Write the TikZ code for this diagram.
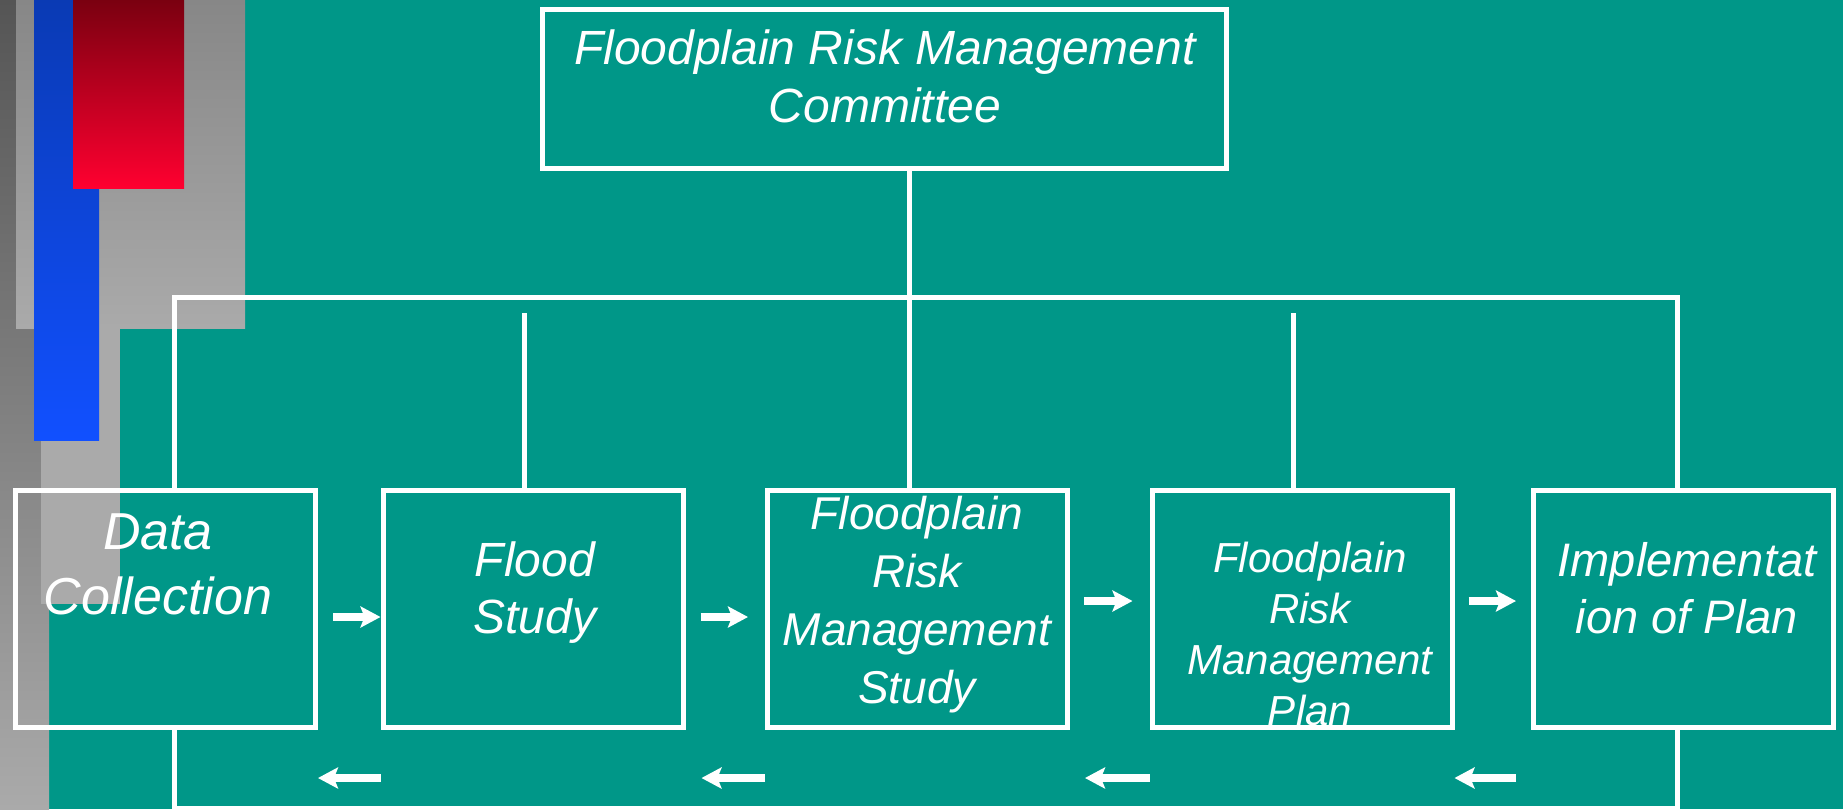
\documentclass[tikz,border=0pt]{standalone}
\usepackage{fontspec}
\setmainfont{Liberation Sans}
\usepackage{tikz}
\usetikzlibrary{arrows.meta}

\definecolor{bgteal}{RGB}{0,151,136}
\definecolor{slatetop}{RGB}{85,85,85}
\definecolor{slatebot}{RGB}{170,170,170}
\definecolor{mistTop}{RGB}{135,135,135}
\definecolor{blueTop}{RGB}{10,58,180}
\definecolor{blueBot}{RGB}{17,80,255}
\definecolor{redTop}{RGB}{122,0,16}
\definecolor{redBot}{RGB}{255,0,48}

\tikzset{
  box/.style={draw=white, line width=5pt, minimum width=300pt, minimum height=237pt, inner sep=0pt},
  lbl/.style={text=white, align=center, inner sep=0pt},
  wire/.style={draw=white, line width=5pt},
  flow/.style={white, line width=7.5pt, -{Stealth[length=20pt,width=21pt,inset=4pt]}}
}

\begin{document}
\begin{tikzpicture}[x=1pt,y=-1pt]
\useasboundingbox (0,0) rectangle (1843,809);
\fill[bgteal] (0,0) rectangle (1843,809);
% bars on the left
\shade[top color=slatetop, bottom color=slatebot] (0,0) rectangle (49,809);
\shade[top color=mistTop, bottom color=slatebot] (16,0) rectangle (245,328);
\fill[slatebot] (41,328) rectangle (120,604);
\shade[top color=blueTop, bottom color=blueBot] (34,0) rectangle (99,440);
\shade[top color=redTop, bottom color=redBot] (73,0) rectangle (184,188);

\node[box, minimum width=684pt, minimum height=159pt] (frmc) at (884.5,89) {};
\node[box] (dc) at (165.5,609) {};
\node[box] (fs) at (533,609) {};
\node[box] (fmst) at (917.5,609) {};
\node[box] (fmpl) at (1302,609) {};
\node[box] (impl) at (1683.5,609) {};

\node[lbl, font=\itshape\fontsize{48}{58}\selectfont] (frmctext) at (885,76.5) {Floodplain Risk Management\\Committee};
\node[lbl, font=\itshape\fontsize{52}{65}\selectfont] (dctext) at (158,564) {Data\\Collection};
\node[lbl, font=\itshape\fontsize{48}{57}\selectfont] (fstext) at (535,593) {Flood\\Study};
\node[lbl, font=\itshape\fontsize{46}{58}\selectfont] (fmsttext) at (917,605) {Floodplain\\Risk\\Management\\Study};
\node[lbl, font=\itshape\fontsize{42}{51}\selectfont] (fmpltext) at (1310,633.5) {Floodplain\\Risk\\Management\\Plan};
\node[lbl, font=\itshape\fontsize{47}{57}\selectfont] (impltext) at (1687,588.5) {Implementat\\ion of Plan};

\coordinate (spine) at (909,297);
\coordinate (busL) at (174,297);
\coordinate (busR) at (1677,297);
\coordinate (tapA) at (524,313);
\coordinate (tapB) at (1293,313);
\coordinate (loopL) at (174,808);
\coordinate (loopR) at (1677,808);

\draw[wire] (frmc.south -| spine) -- (fmst.north -| spine);
\draw[wire] (dc.north -| busL) -- (busL) -- (busR) -- (impl.north -| busR);
\draw[wire] (tapA) -- (fs.north -| tapA);
\draw[wire] (tapB) -- (fmpl.north -| tapB);
\draw[wire] (dc.south -| loopL) -- (loopL) -- (loopR) -- (impl.south -| loopR);

% forward
\draw[flow, shorten <=15pt] ([yshift=-8pt]dc.east) -- ([yshift=-8pt]fs.west);
\draw[flow, shorten <=15pt, shorten >=17pt] ([yshift=-8pt]fs.east) -- ([yshift=-8pt]fmst.west);
\draw[flow, shorten <=14pt, shorten >=17pt] ([yshift=8pt]fmst.east) -- ([yshift=8pt]fmpl.west);
\draw[flow, shorten <=14pt, shorten >=15pt] ([yshift=8pt]fmpl.east) -- ([yshift=8pt]impl.west);
% back
\draw[flow] ([yshift=-169pt]fs.west) -- ([yshift=-169pt]dc.east);
\draw[flow, shorten >=16pt] ([yshift=-169pt]fmst.west) -- ([yshift=-169pt]fs.east);
\draw[flow, shorten >=15pt] ([yshift=-169pt]fmpl.west) -- ([yshift=-169pt]fmst.east);
\draw[flow, shorten <=15pt] ([yshift=-169pt]impl.west) -- ([yshift=-169pt]fmpl.east);
\end{tikzpicture}
\end{document}
